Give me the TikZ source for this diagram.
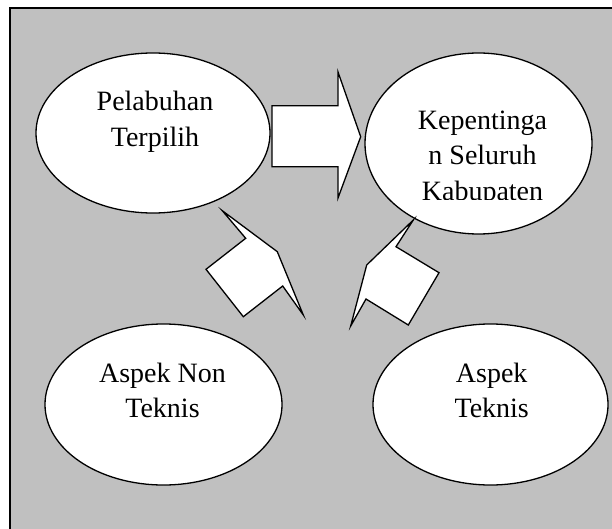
\documentclass[tikz,border=0pt]{standalone}
\usepackage{fontspec}
\setmainfont{Liberation Serif}
\usetikzlibrary{shapes.geometric}
\definecolor{bg}{RGB}{192,192,192}
\begin{document}
\begin{tikzpicture}[x=1pt,y=-1pt,
  oval/.style={ellipse, draw, fill=white, line width=1.3pt, inner sep=0pt},
  lbl/.style={align=center, anchor=north, inner sep=0pt, font=\fontsize{28}{35.5}\selectfont},
  blockarrow/.style={draw, fill=white, line width=1.3pt, line join=miter}]
\useasboundingbox (0,0) rectangle (612,529);
\clip (0,0) rectangle (612,529);
\draw[fill=bg, line width=1.3pt] (10,8) rectangle (630,550);
% ellipses
\node[oval, minimum width=234pt, minimum height=160pt] (e1) at (153,133) {};
\node[oval, minimum width=227pt, minimum height=181pt] (e2) at (478.5,143.5) {};
\node[oval, minimum width=237pt, minimum height=161pt] (e3) at (163.5,404.5) {};
\node[oval, minimum width=235pt, minimum height=161pt] (e4) at (490.5,404.5) {};
% texts
\node[lbl] (t1) at (155,91) {Pelabuhan\\Terpilih};
\begin{scope}
  \clip (360,40) rectangle (600,199.3);
  \node[lbl] (t2) at (482.5,110.5) {Kepentinga\\n Seluruh\\Kabupaten};
\end{scope}
\node[lbl] (t3) at (162.5,362.7) {Aspek Non\\Teknis};
\node[lbl] (t4) at (491.7,362.7) {Aspek\\Teknis};
% block arrows
\draw[blockarrow] (272,105.7) -- (338,105.7) -- (338,72) -- (360.7,136.7) -- (338,198) -- (338,166.7) -- (272,166.7) -- cycle;
\draw[blockarrow] (222.3,210.7) -- (245.7,238.3) -- (206,269.3) -- (243.3,316.7) -- (282.7,286) -- (303.3,315) -- (277.3,251.7) -- cycle;
\draw[blockarrow] (413.3,220) -- (396,246.7) -- (439,272.7) -- (408.3,325) -- (366,299) -- (350.7,326) -- (366.7,265) -- cycle;
\end{tikzpicture}
\end{document}
